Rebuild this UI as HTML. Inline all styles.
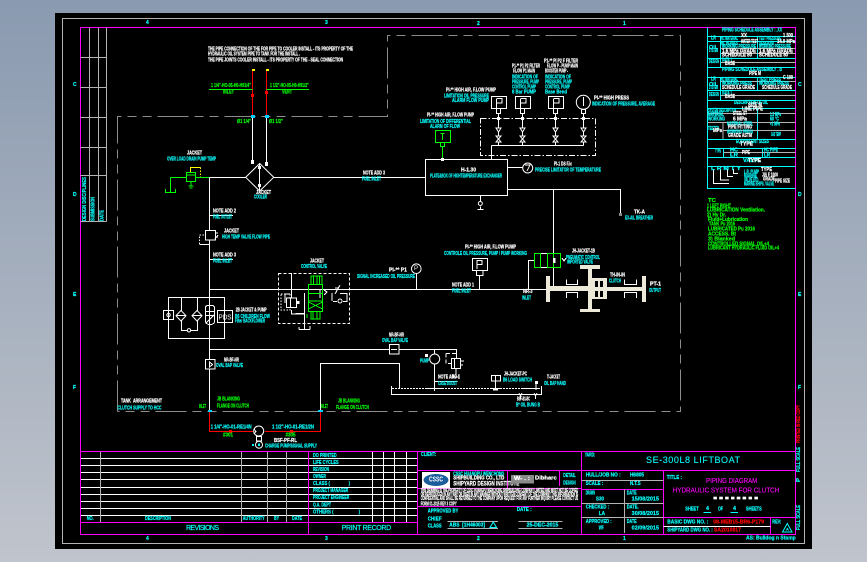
<!DOCTYPE html>
<html><head><meta charset="utf-8"><title>Piping Diagram</title>
<style>
html,body{margin:0;padding:0;width:867px;height:562px;overflow:hidden;background:#a5aebd}
svg{display:block}
text{font-family:"Liberation Sans",sans-serif;font-size:5px;font-weight:bold;dominant-baseline:central}
.c{fill:#00ffff;stroke:#00ffff;stroke-width:.18}.w{fill:#fff;stroke:#fff;stroke-width:.22}.g{fill:#00ff00;stroke:#00ff00;stroke-width:.18}.m{fill:#ff00ff;stroke:#ff00ff;stroke-width:.12}.r{fill:#ff0000;stroke:#ff0000;stroke-width:.18}
.big{font-weight:normal;font-size:9px}.mid{font-weight:normal;font-size:7px}
.ln{fill:none;stroke-width:1;shape-rendering:crispEdges}
.W{stroke:#fff}.G{stroke:#00ff00}.R{stroke:#ff0000}.M{stroke:#ff00ff}.C{stroke:#00ffff}.Y{stroke:#ffff00}.S{stroke:#b4b4b4}
.D{stroke:#8c8c8c;stroke-dasharray:31,6,9,6,9,6}
.F{fill:#ece9d8;stroke:none;shape-rendering:crispEdges}
</style></head><body>
<svg width="867" height="562" viewBox="0 0 867 562" xmlns="http://www.w3.org/2000/svg">
<defs><linearGradient id="bg" x1="0" y1="0" x2="0" y2="1"><stop offset="0" stop-color="#8a9ab0"/><stop offset="1" stop-color="#c0c4cc"/></linearGradient></defs>
<rect width="867" height="562" fill="url(#bg)"/>
<rect x="55" y="13" width="757" height="536" fill="#000"/>
<path class="ln S" d="M62.5 18.5H804.5V543.5H62.5Z"/>
<path class="ln M" stroke-width="1" d="M80.5 27.5H795.5V534.5H80.5Z"/>

<!-- tick letters -->
<g class="c">
<text x="146" y="23">4</text><text x="325" y="23">3</text><text x="477" y="24">2</text><text x="623" y="24">1</text>
<text x="146" y="539">4</text><text x="325" y="539">3</text><text x="477" y="539">2</text><text x="623" y="539">1</text>
<text x="73" y="85">C</text><text x="73" y="195">D</text><text x="73" y="295">E</text><text x="73" y="388">F</text>
<text x="798" y="85">C</text><text x="798" y="195">D</text><text x="798" y="295">E</text><text x="798" y="388">F</text>
</g>

<!-- left strip -->
<path class="ln S" d="M89.5 27.5V221.5M98.5 27.5V221.5M106.5 27.5V221.5M80.5 57.5H106.5M80.5 87.5H106.5M80.5 117.5H106.5M80.5 147.5H106.5M80.5 175.5H106.5M80.5 221.5H106.5"/>
<text class="c" transform="translate(85 221) rotate(-90)" textLength="44" lengthAdjust="spacingAndGlyphs">DESIGN DISCIPLINES</text>
<text class="c" transform="translate(93.5 221) rotate(-90)" textLength="24" lengthAdjust="spacingAndGlyphs">SUBMISSION</text>
<text class="c" transform="translate(102.5 221) rotate(-90)" textLength="11" lengthAdjust="spacingAndGlyphs">DATE</text>

<!-- boundary -->
<path class="ln D" d="M117.5 411.5V116.5H387.5V35.5H680.5V411.5H117.5"/>

<!-- top notes -->
<text class="w" x="208" y="49.5" textLength="145" lengthAdjust="spacingAndGlyphs">THE PIPE CONNECTION OF THE FOR PIPE TO COOLER INSTALL - ITS PROPERTY OF THE</text>
<text class="w" x="208" y="54.5" textLength="92" lengthAdjust="spacingAndGlyphs">HYDRAULIC OIL SYSTEM PIPE TO TANK FOR THE INSTALL .</text>
<text class="w" x="208" y="60.5" textLength="135" lengthAdjust="spacingAndGlyphs">THE PIPE JOINTS COOLER INSTALL - ITS PROPERTY OF THE - SEAL CONNECTION</text>

<!-- red pipes -->
<path class="ln R" d="M252.5 70V116M266.5 70V116"/>
<rect x="252" y="69" width="3" height="2" fill="#ffff00"/><rect x="266" y="69" width="3" height="2" fill="#ffff00"/>
<rect x="251" y="94" width="3" height="3" fill="#f00"/><rect x="265" y="91" width="3" height="3" fill="#f00"/>
<path class="ln G" d="M209 89.5H252.5M266.5 89.5H309"/>
<text class="g" x="211" y="86" textLength="40" lengthAdjust="spacingAndGlyphs">1 1/4"-HO-05-H0-H91/4"</text>
<text class="g" x="270" y="86" textLength="38.7" lengthAdjust="spacingAndGlyphs">1 1/2"-HO-05-H0-H91/2"</text>
<text class="g" x="223" y="92.5" textLength="11" lengthAdjust="spacingAndGlyphs">INLET</text>
<text class="g" x="282" y="92.5" textLength="10" lengthAdjust="spacingAndGlyphs">VENT</text>
<rect x="251" y="115" width="4" height="3" fill="#00d0ff"/><rect x="265" y="115" width="4" height="3" fill="#00d0ff"/>
<text class="g" x="237" y="122" textLength="14" lengthAdjust="spacingAndGlyphs">Ø1 1/4"</text>
<text class="g" x="269" y="122" textLength="14" lengthAdjust="spacingAndGlyphs">Ø1 1/2"</text>

<!-- cooler -->
<path class="ln W" d="M252.5 118V163M266.5 118V165M259.5 163.5V191M274 177.5H425.5M209.5 177.5H246"/>
<path d="M259.7 163.5L273.7 177.3L259.7 191L245.7 177.3Z" fill="none" stroke="#fff" stroke-width="1"/>
<rect x="251" y="160" width="3" height="4" fill="#fff"/><rect x="265" y="162" width="3" height="4" fill="#fff"/><rect x="258" y="166" width="3" height="3" fill="#fff"/><rect x="258" y="184" width="3" height="3" fill="#fff"/>
<text class="w" x="256" y="193" textLength="15" lengthAdjust="spacingAndGlyphs">JACKET</text>
<text class="c" x="254" y="197.5" textLength="13" lengthAdjust="spacingAndGlyphs">COOLER</text>
<text class="w" x="363" y="173.7" textLength="22" lengthAdjust="spacingAndGlyphs">NOTE ADD 3</text>
<text class="c" x="362" y="179.3" textLength="19" lengthAdjust="spacingAndGlyphs">FUEL INLET</text>

<!-- green oil valve -->
<path class="ln G" d="M170.5 177.5H186M196 177.5H209.5M170.5 177.5V192.5M165.5 189V192.5H175.5V189M186.5 172.5H195.5V181.5H186.5ZM186.5 175H195.5M191 182V186M188.5 186H193.5M189.5 188H192.5"/>
<path class="ln Y" d="M190.5 172V167.5H200.5"/>
<path class="ln Y" stroke-dasharray="1.5,1.5" d="M200.5 167.5V177"/>
<text class="w" x="187" y="153.5" textLength="15" lengthAdjust="spacingAndGlyphs">JACKET</text>
<text class="c" x="167" y="159.5" textLength="49" lengthAdjust="spacingAndGlyphs">OVER LOAD DRAIN PUMP TEMP</text>

<!-- left vertical main -->
<path class="ln W" d="M209.5 177.5V411.5M209.5 215.5H233M209.5 259.5H233M209.5 289.5H546.5M209.5 349.5H456.5V358"/>
<text class="w" x="213" y="211.7" textLength="23" lengthAdjust="spacingAndGlyphs">NOTE ADD 2</text>
<text class="c" x="213" y="217.5" textLength="19" lengthAdjust="spacingAndGlyphs">FUEL OUTLET</text>
<text class="w" x="213" y="255.5" textLength="23" lengthAdjust="spacingAndGlyphs">NOTE ADD 3</text>
<text class="c" x="213" y="261.5" textLength="19" lengthAdjust="spacingAndGlyphs">FUEL INLET</text>

<!-- top left small valve -->
<rect x="205.5" y="230.5" width="10" height="9.5" fill="#000" stroke="#fff" stroke-width="1"/>
<path class="ln W" d="M199.5 244.5H209.5M216 233H218M216 237H218M215 239L218 235"/>
<path class="ln W" stroke-dasharray="1.5,1.5" d="M199.5 244V235H205"/>
<text class="w" x="224" y="231.5" textLength="15" lengthAdjust="spacingAndGlyphs">JACKET</text>
<text class="c" x="222" y="237.5" textLength="48" lengthAdjust="spacingAndGlyphs">HIGH TEMP VALVE FLOW PIPE</text>

<!-- filter block -->
<path class="ln W" d="M168.5 297.5H224.5V338.5H168.5ZM163.5 310.5H173.5V319.5H163.5ZM181.5 297.5V310.5M197.5 297.5V310.5M181.5 320.5V330.5H197.5V320.5M205.5 308Q205.5 305.5 208 305.5H212Q214.5 305.5 214.5 308V321Q214.5 324.5 210 324.5Q205.5 324.5 205.5 321ZM205.5 311.5H214.5M205.5 315.5H214.5M206 323L214 315M217.5 310.5H232.5V322.5H217.5Z"/>
<path d="M181 310.5L186 315.7L181 321L176 315.7ZM197 310.5L202 315.7L197 321L192 315.7Z" fill="#000" stroke="#fff"/>
<path class="ln W" d="M176 315.5H186M192 315.5H202"/>
<circle cx="168.5" cy="315" r="1.7" fill="none" stroke="#fff"/><circle cx="189" cy="330.3" r="1.7" fill="#000" stroke="#fff"/>
<text x="218.5" y="317" fill="#fff" style="font-size:7.5px;font-weight:normal" textLength="13" lengthAdjust="spacingAndGlyphs">PDS</text>
<text class="w" x="235.7" y="310.5" textLength="31" lengthAdjust="spacingAndGlyphs">2B JACKET &amp; PUMP</text>
<text class="c" x="235" y="316.8" textLength="35" lengthAdjust="spacingAndGlyphs">B6 CHILDREN FLOW</text>
<text class="c" x="235" y="321.4" textLength="30" lengthAdjust="spacingAndGlyphs">Filter BACKFLOWER</text>

<!-- check valve left -->
<rect x="205.5" y="359.5" width="9.5" height="9.5" fill="#000" stroke="#fff" stroke-width="1"/>
<path class="ln W" d="M209.5 362V367L212.5 364.5Z"/>
<text class="w" x="224" y="360.5" textLength="15" lengthAdjust="spacingAndGlyphs">NR-BF-NR</text>
<text class="c" x="216" y="366" textLength="27" lengthAdjust="spacingAndGlyphs">OVAL BAP VALVE</text>

<!-- control dashed box -->
<rect x="278.5" y="273.5" width="71" height="50" fill="none" stroke="#fff" stroke-dasharray="3,2" shape-rendering="crispEdges"/>
<text class="w" x="310" y="261.7" textLength="14" lengthAdjust="spacingAndGlyphs">JACKET</text>
<text class="c" x="301" y="266.8" textLength="26" lengthAdjust="spacingAndGlyphs">CONTROL VALVE</text>
<path class="ln W" d="M291.5 273V298M291.5 310V314H304M304.5 293V329M299 329.5H310M310 329.5V326M299 329.5V327M295.5 313.5H304.5M285 303V294H290M320 289V298M335 294L340 285M335 288H339M340 293.5H347V301.5H343M337 301.5H333M332 293V301"/>
<path class="ln W" stroke-dasharray="1.5,1.5" d="M281 294H290V310H281V294"/>
<rect x="286.5" y="298" width="10" height="9.5" fill="#000" stroke="#fff"/><path class="ln W" d="M290.5 298V307.5"/>
<rect x="297" y="301" width="2.5" height="3" fill="#fff"/>
<circle cx="340" cy="301" r="2" fill="#000" stroke="#fff"/>
<path class="ln G" d="M308.5 284.5H322.5V311.5H308.5ZM308.5 293.5H322.5M308.5 301H322.5M308.5 302L322.5 309M322.5 302L308.5 309M311 284V276H322V284M313.5 276V284M317 276V284M319.5 276V284M311 312V319H320V312M313 312V319M317 312V319M307 314V318"/>
<path class="ln W" d="M324 290L327 292L324 295"/>
<text class="w" x="389" y="270.5" textLength="18" lengthAdjust="spacingAndGlyphs">PI-** P1</text>
<text class="c" x="357" y="277" textLength="58" lengthAdjust="spacingAndGlyphs">SIGNAL INCREASED OIL PRESSURE</text>
<circle cx="416.3" cy="268.7" r="4.8" fill="#000" stroke="#fff"/>
<text x="414" y="269" fill="#fff" style="font-size:6px;font-weight:normal">P</text>
<path class="ln W" d="M416.5 273.5V289.5"/>

<!-- pressure gauge mid -->
<rect x="472.5" y="258.5" width="15" height="12" fill="none" stroke="#fff"/>
<path class="ln W" d="M477 260V269M477 260.5H482V264.5H477M476.5 270.5H483V275.5H476.5ZM479.5 275.5V289.5"/>
<text class="w" x="465" y="247.5" textLength="51" lengthAdjust="spacingAndGlyphs">PI-** HIGH AIR, F.LOW PUMP</text>
<text class="c" x="444" y="254" textLength="83" lengthAdjust="spacingAndGlyphs">CONTROLE OIL PRESSURE, PUMP / PUMP WORKING</text>
<text class="w" x="452" y="285.5" textLength="22" lengthAdjust="spacingAndGlyphs">NOTE ADD 1</text>
<text class="c" x="452" y="291.5" textLength="19" lengthAdjust="spacingAndGlyphs">FUEL INLET</text>
<text class="w" x="523" y="292" textLength="9.5" lengthAdjust="spacingAndGlyphs">NR-3</text>
<text class="c" x="522" y="298.5" textLength="9" lengthAdjust="spacingAndGlyphs">INLET</text>

<!-- main box -->
<rect x="425.5" y="159.5" width="82" height="36" fill="none" stroke="#fff"/>
<text class="w" x="461" y="170.3" textLength="15" lengthAdjust="spacingAndGlyphs">H-1.30</text>
<text class="c" x="430" y="176.3" textLength="72" lengthAdjust="spacingAndGlyphs">PLATE&amp;BOX OF HIGHTEMPERATURE EXCHANGER</text>
<path class="ln W" d="M507.5 167.5H522.5M507.5 189.5H620.5V215M553.5 189.5V287M480.5 195.5V201M477.5 209.5H483.5M480.5 206.5V209.5"/>
<circle cx="480.3" cy="203.5" r="2" fill="none" stroke="#fff"/>
<circle cx="527.7" cy="168" r="5" fill="none" stroke="#fff"/>
<path class="ln W" d="M525 165H530L527 171"/>
<rect x="619" y="213" width="3" height="3" fill="#888"/>
<text class="w" x="554" y="164.7" textLength="18" lengthAdjust="spacingAndGlyphs">PI-1 DS F.ic</text>
<text class="c" x="535" y="170.5" textLength="66" lengthAdjust="spacingAndGlyphs">PRECISE LIMITATOR OF TEMPERATURE</text>
<text class="w" x="634" y="212.7" textLength="11" lengthAdjust="spacingAndGlyphs">TK-A</text>
<text class="c" x="625" y="218.3" textLength="28" lengthAdjust="spacingAndGlyphs">EX-AIL BREATHER</text>

<!-- instruments -->
<rect x="480.5" y="118.5" width="115" height="37" fill="none" stroke="#fff" stroke-dasharray="6,2,1.5,2" shape-rendering="crispEdges"/>
<path class="ln W" d="M491.5 96.5H506.5V108.5H491.5ZM496.5 99V108M496.5 98.5H502V103H496.5M496.5 108.5H500.5V113.5H496.5ZM515.5 96.5H530.5V108.5H515.5ZM520.5 99V108M520.5 98.5H526V103H520.5M520.5 108.5H524.5V113.5H520.5ZM548.5 96.5H563.5V108.5H548.5ZM553.5 99V108M553.5 98.5H559V103H553.5M553.5 108.5H557.5V113.5H553.5ZM581.5 109.5H585.5V113.5H581.5ZM498.5 113.5V145.5M522.5 113.5V145.5M555.5 113.5V145.5M583.5 113.5V145.5M491.5 145.5H583.5M491.5 145.5V159.5M583.5 97V106"/>
<circle cx="583.3" cy="102.3" r="7" fill="none" stroke="#fff"/>
<g fill="#000" stroke="#fff">
<path d="M496 128H501L498.5 132ZM496 136H501L498.5 139L501 142H496L498.5 139Z"/>
<path d="M520 128H525L522.5 132ZM520 136H525L522.5 139L525 142H520L522.5 139Z"/>
<path d="M553 128H558L555.5 132ZM553 136H558L555.5 139L558 142H553L555.5 139Z"/>
<path d="M581 128H586L583.5 132ZM581 136H586L583.5 139L586 142H581L583.5 139Z"/>
</g>
<rect x="497" y="117" width="3" height="3" fill="#fff"/><rect x="521" y="117" width="3" height="3" fill="#fff"/><rect x="554" y="117" width="3" height="3" fill="#fff"/><rect x="582" y="117" width="3" height="3" fill="#fff"/>
<path class="ln G" d="M435.5 130.5H450.5V142.5H435.5ZM440.5 142.5H444.5V146.5H440.5ZM442.5 134V140M440.5 133.5H444.5M442.5 146.5V159"/>
<rect x="441" y="158" width="3" height="3" fill="#fff"/>

<text class="w" x="427" y="115.3" textLength="47" lengthAdjust="spacingAndGlyphs">PI-** HIGH AIR, F.LOW PUMP</text>
<text class="c" x="420" y="122" textLength="51" lengthAdjust="spacingAndGlyphs">LIMITATION OF DIFFERENTIAL</text>
<text class="c" x="430" y="126.8" textLength="30" lengthAdjust="spacingAndGlyphs">ALARM OF FLOW</text>
<text class="w" x="446" y="90.7" textLength="50" lengthAdjust="spacingAndGlyphs">PI-** HIGH AIR, F.LOW PUMP</text>
<text class="c" x="444" y="96.5" textLength="45" lengthAdjust="spacingAndGlyphs">LIMITATION OIL PRESSURE</text>
<text class="c" x="452" y="101.2" textLength="37" lengthAdjust="spacingAndGlyphs">ALARM FLOW PUMP</text>
<text class="w" x="512" y="66.7" textLength="28" lengthAdjust="spacingAndGlyphs">P1-** P1 P2 FILTER</text>
<text class="w" x="513" y="71.7" textLength="22" lengthAdjust="spacingAndGlyphs">F.LOW P1 MAIN</text>
<text class="c" x="512" y="77.7" textLength="26" lengthAdjust="spacingAndGlyphs">INDICATION OF</text>
<text class="c" x="512" y="82.7" textLength="27" lengthAdjust="spacingAndGlyphs">PRESSURE, PUMP</text>
<text class="c" x="512" y="87.7" textLength="24" lengthAdjust="spacingAndGlyphs">CONTROL PUMP</text>
<text class="c" x="512" y="92.7" textLength="24" lengthAdjust="spacingAndGlyphs">8 Bar PUMP</text>
<text class="w" x="544" y="61.7" textLength="34" lengthAdjust="spacingAndGlyphs">P1-** PI P2 F FILTER</text>
<text class="w" x="547" y="66.7" textLength="31" lengthAdjust="spacingAndGlyphs">F.LOW P - PUMP MAIN</text>
<text class="w" x="545" y="71.7" textLength="23" lengthAdjust="spacingAndGlyphs">BOOSTER PUMP -</text>
<text class="c" x="545" y="77.7" textLength="26" lengthAdjust="spacingAndGlyphs">INDICATION OF</text>
<text class="c" x="545" y="82.7" textLength="27" lengthAdjust="spacingAndGlyphs">PRESSURE, PUMP</text>
<text class="c" x="545" y="87.7" textLength="25" lengthAdjust="spacingAndGlyphs">CONTROL PUMP</text>
<text class="c" x="545" y="92.7" textLength="22" lengthAdjust="spacingAndGlyphs">Base Bend</text>
<text class="w" x="594" y="98.3" textLength="35" lengthAdjust="spacingAndGlyphs">PI-** HIGH PRESS</text>
<text class="c" x="592" y="104.7" textLength="63" lengthAdjust="spacingAndGlyphs">INDICATION OF PRESSURE, AVERAGE</text>

<!-- clutch assembly -->
<path class="ln W" d="M528.5 289V260.5H534"/>
<rect class="F" x="546" y="276" width="4" height="26"/>
<rect class="F" x="550" y="286" width="39" height="5"/>
<rect class="F" x="588" y="266" width="4" height="46"/>
<rect class="F" x="580" y="265" width="20" height="4"/>
<rect class="F" x="580" y="309" width="20" height="3"/>
<rect class="F" x="592" y="278" width="15" height="21"/>
<rect x="595" y="281" width="3" height="6" fill="#000"/><rect x="600" y="281" width="3" height="6" fill="#000"/><rect x="595" y="291" width="3" height="6" fill="#000"/><rect x="600" y="291" width="3" height="6" fill="#000"/>
<rect class="F" x="592" y="287" width="50" height="4"/>
<rect class="F" x="642" y="276" width="4" height="26"/>
<path class="ln W" d="M566.5 279.5V284.5H577.5V279.5M566.5 298V292.5H577.5V298M624.5 279.5V284.5H636.5V279.5M624.5 298V292.5H636.5V298"/>
<path class="ln G" d="M534.5 253.5H560.5V267.5H534.5ZM540.5 253.5V267.5M547.5 253.5V267.5M553.5 253.5V267.5"/>
<rect x="553" y="258" width="2.5" height="5" fill="#fff"/>
<path class="ln W" d="M541 253.5H547M541 267.5H547M562 258L564 261L566 258"/>
<text class="w" x="572" y="251.5" textLength="23" lengthAdjust="spacingAndGlyphs">JH-JACKET-1B</text>
<text class="c" x="566" y="257.8" textLength="34" lengthAdjust="spacingAndGlyphs">PNEUMATIC CONTROL</text>
<text class="c" x="567" y="262.5" textLength="26" lengthAdjust="spacingAndGlyphs">IMPORTED VALVE</text>
<text class="w" x="610" y="275.5" textLength="15" lengthAdjust="spacingAndGlyphs">TH-IN-IN</text>
<text class="c" x="609" y="281.5" textLength="12" lengthAdjust="spacingAndGlyphs">CLUTCH</text>
<text class="w" x="650" y="284.5" textLength="11" lengthAdjust="spacingAndGlyphs">PT-1</text>
<text class="c" x="649" y="291" textLength="12" lengthAdjust="spacingAndGlyphs">OUTPUT</text>

<!-- lower right pump and tank -->
<rect x="389.5" y="344.5" width="9.5" height="9.5" fill="#000" stroke="#fff"/>
<path class="ln W" d="M391 349.5H397"/>
<text class="w" x="389" y="335.5" textLength="15" lengthAdjust="spacingAndGlyphs">NR-BF-NR</text>
<text class="c" x="382" y="341" textLength="26" lengthAdjust="spacingAndGlyphs">OVAL BAP VALVE</text>
<path class="ln W" d="M320.5 411.5V363.5H399.5V389M434.5 349.5V354M434.5 364V391M434.5 381.5H457.5M391.5 386V394.5H541.5V386"/>
<path class="ln W" stroke-dasharray="2,1" d="M392 388.5H425M442 388.5H490M500 388.5H522"/>
<path class="ln W" d="M425 388.5H442M490 388.5H500M522 388.5H540"/>
<circle cx="434.7" cy="359" r="5" fill="#000" stroke="#fff"/>
<rect x="425" y="354" width="3" height="3" fill="#fff"/>
<rect x="451.5" y="358.5" width="9" height="10" fill="#000" stroke="#fff"/>
<path class="ln W" d="M454.5 358.5V368.5M461 361H464M461 365H463M456 369V375M453 374V377H459V374"/>
<path class="ln W" stroke-dasharray="4,2" d="M446 353.5H456M446 353.5V363.5H451"/>
<text class="c" x="420" y="361.5" textLength="9" lengthAdjust="spacingAndGlyphs">PUMP</text>
<text class="w" x="438" y="377.5" textLength="22" lengthAdjust="spacingAndGlyphs">NOTE ADD 1</text>
<text class="c" x="438" y="384" textLength="19" lengthAdjust="spacingAndGlyphs">CASE BOOST</text>
<rect x="491.5" y="375.5" width="9" height="5.5" fill="#000" stroke="#fff"/>
<path class="ln W" d="M495.5 376V381M495.5 381V388"/>
<rect x="493" y="388" width="5" height="2.5" fill="#fff"/>
<text class="w" x="504" y="374.5" textLength="23" lengthAdjust="spacingAndGlyphs">JH-JACKET-PC</text>
<text class="c" x="503" y="380.5" textLength="29" lengthAdjust="spacingAndGlyphs">B6 LOAD SWITCH</text>
<path class="ln W" d="M536 382V390M520.5 394V399M535.5 394V399M519 393L520.5 396L522 393M534 393L535.5 396L537 393"/>
<rect x="535" y="381" width="3" height="3" fill="#fff"/>
<text class="w" x="547" y="377.5" textLength="13" lengthAdjust="spacingAndGlyphs">TI-JACKET</text>
<text class="c" x="544" y="384" textLength="22" lengthAdjust="spacingAndGlyphs">OIL BAP HAND</text>
<text class="w" x="517" y="399.5" textLength="13" lengthAdjust="spacingAndGlyphs">BSF-B1-BC</text>
<text class="c" x="516" y="405.5" textLength="24" lengthAdjust="spacingAndGlyphs">B* OIL BUNG B</text>

<!-- bottom left -->
<text class="w" x="121" y="401.5" textLength="41" lengthAdjust="spacingAndGlyphs">TANK&#160;&#160;ARRANGEMENT</text>
<text class="c" x="117.5" y="408.5" textLength="44" lengthAdjust="spacingAndGlyphs">CLUTCH SUPPLY TO HCC</text>
<text class="g" x="199" y="407" textLength="7" lengthAdjust="spacingAndGlyphs">INLET</text>
<text class="g" x="217" y="399.5" textLength="23" lengthAdjust="spacingAndGlyphs">JB BLANKING</text>
<text class="g" x="217" y="406.5" textLength="32" lengthAdjust="spacingAndGlyphs">FLANGE ON CLUTCH</text>
<text class="g" x="321" y="407" textLength="7" lengthAdjust="spacingAndGlyphs">INLET</text>
<text class="g" x="338" y="401.5" textLength="22" lengthAdjust="spacingAndGlyphs">JB BLANKING</text>
<text class="g" x="336" y="408" textLength="33" lengthAdjust="spacingAndGlyphs">FLANGE ON CLUTCH</text>
<rect x="208" y="410" width="4" height="2" fill="#00d0ff"/><rect x="318" y="410" width="5" height="2" fill="#00d0ff"/>
<path class="ln R" d="M209.5 412V431.5H253M265 431.5H320.5V412"/>
<rect x="229" y="430" width="3" height="3" fill="#f00"/><rect x="290" y="430" width="3" height="3" fill="#f00"/>
<text class="c" x="210.7" y="427.5" textLength="41" lengthAdjust="spacingAndGlyphs">1 1/4"-HO-01-RE1/4N</text>
<text class="c" x="272" y="427.5" textLength="42" lengthAdjust="spacingAndGlyphs">1 1/2"-HO-01-RE1/2N</text>
<text class="g" x="223" y="435.5" textLength="10" lengthAdjust="spacingAndGlyphs">#301</text>
<text class="g" x="285.5" y="435.5" textLength="10" lengthAdjust="spacingAndGlyphs">#305</text>
<circle cx="258.7" cy="431" r="5" fill="#000" stroke="#fff"/>
<path class="ln W" d="M256.5 436.5H261.5V441H256.5ZM254 429L256 431.5L254 434"/>
<circle cx="259" cy="444.7" r="3.5" fill="none" stroke="#fff"/>
<rect x="258" y="443.5" width="2" height="2.5" fill="#0ff"/><rect x="252" y="444" width="2" height="2" fill="#0ff"/>
<text class="w" x="274" y="440.8" textLength="23" lengthAdjust="spacingAndGlyphs">BSF-PF-RL</text>
<text class="c" x="265" y="446.7" textLength="52" lengthAdjust="spacingAndGlyphs">CHARGE PUMP/SIGNAL SUPPLY</text>

<!-- green notes -->
<g class="g">
<text x="708" y="201" textLength="8" lengthAdjust="spacingAndGlyphs">TC</text>
<text x="707" y="206.3" textLength="24" lengthAdjust="spacingAndGlyphs">1 LEFT RIGHT</text>
<text x="707" y="210.7" textLength="58" lengthAdjust="spacingAndGlyphs">LUBRICATION Ventilation.</text>
<text x="707" y="215.7" textLength="19" lengthAdjust="spacingAndGlyphs">2) Hy Dr.</text>
<text x="708" y="220" textLength="40" lengthAdjust="spacingAndGlyphs">Fluid+Lubrication</text>
<text x="709" y="224.7" textLength="26" lengthAdjust="spacingAndGlyphs">TANK Pu 2016</text>
<text x="708" y="229.7" textLength="47" lengthAdjust="spacingAndGlyphs">LUBRICATED Pu 2016</text>
<text x="708" y="234.3" textLength="28" lengthAdjust="spacingAndGlyphs">ACCESS. Bt</text>
<text x="708" y="239.7" textLength="27" lengthAdjust="spacingAndGlyphs">3) Blanked</text>
<text x="708" y="244.3" textLength="61" lengthAdjust="spacingAndGlyphs">CONTROLLED SIGNAL OIL+4</text>
<text x="708" y="248.7" textLength="71" lengthAdjust="spacingAndGlyphs">LUBRICANT HYDRAULIC FLUID OIL+4</text>
</g>

<!-- right panel -->
<path class="ln C" d="M707.5 27.5V188.5H795.5M707.5 36.5H795.5M707.5 41.5H795.5M707.5 58.5H795.5M707.5 67.5H795.5M707.5 77.5H795.5M707.5 90.5H795.5M707.5 100.5H795.5M707.5 108.5H795.5M707.5 139.5H795.5M707.5 148.5H795.5M707.5 157.5H795.5M707.5 166.5H795.5M720.5 36.5V67.5M720.5 77.5V100.5M757.5 36.5V58.5M757.5 77.5V90.5M757.5 108.5V139.5M723.5 148.5V157.5M762.5 148.5V157.5"/>
<path class="ln S" d="M720.5 48.5H795.5M720.5 53.5H795.5M720.5 62.5H795.5M720.5 81.5H795.5M720.5 95.5H795.5M707.5 113.5H795.5M707.5 122.5H795.5M723 122V139M723.5 130.5H795.5M723.5 152.5H795.5"/>
<g>
<text class="c" x="722" y="30.5" textLength="60" lengthAdjust="spacingAndGlyphs">PIPING SCHEDULE ASSEMBLY : .XX</text>
<text class="c" x="711" y="38.7" textLength="5" lengthAdjust="spacingAndGlyphs">LR</text>
<text class="c" x="721" y="39" textLength="17" lengthAdjust="spacingAndGlyphs">HC MATERIAL</text>
<text class="w" x="741" y="36" textLength="6" lengthAdjust="spacingAndGlyphs">XX</text>
<text class="c" x="759" y="39" textLength="22" lengthAdjust="spacingAndGlyphs">TEST PRESSURE</text>
<text class="w" x="783" y="36" textLength="10" lengthAdjust="spacingAndGlyphs">1 500</text>
<text class="c" x="721" y="44" textLength="17" lengthAdjust="spacingAndGlyphs">HC HI-PRES</text><text class="w" x="741" y="42" textLength="17" lengthAdjust="spacingAndGlyphs">WATER TEST</text>
<text class="c" x="759" y="44" textLength="15" lengthAdjust="spacingAndGlyphs">DESIGN PR</text><text class="w" x="777" y="42" textLength="18" lengthAdjust="spacingAndGlyphs">14.0 MPa</text>
<text class="c" x="709" y="48" textLength="9" lengthAdjust="spacingAndGlyphs">OIL</text><text class="c" x="709" y="51" textLength="9" lengthAdjust="spacingAndGlyphs">SYSTEM</text>
<text class="c" x="722" y="47" textLength="34" lengthAdjust="spacingAndGlyphs">WORKING PRESSURE</text><text class="c" x="759" y="47" textLength="32" lengthAdjust="spacingAndGlyphs">WORKING PRESSURE</text>
<text class="w" x="722" y="51.5" textLength="34" lengthAdjust="spacingAndGlyphs">1.6 MPa GRADE</text><text class="w" x="759" y="51.5" textLength="34" lengthAdjust="spacingAndGlyphs">1.6 MPa GRADE</text>
<text class="w" x="722" y="55.5" textLength="30" lengthAdjust="spacingAndGlyphs">SCHEDULE 80</text><text class="w" x="759" y="55.5" textLength="29" lengthAdjust="spacingAndGlyphs">SCHEDULE 80</text>
<text class="c" x="709" y="62" textLength="10" lengthAdjust="spacingAndGlyphs">DESIGN</text>
<text class="c" x="722" y="60.5" textLength="10" lengthAdjust="spacingAndGlyphs">DATA 1</text><text class="w" x="725" y="64" textLength="10" lengthAdjust="spacingAndGlyphs">BASE</text>
<text class="c" x="722" y="70" textLength="60" lengthAdjust="spacingAndGlyphs">PIPING SCHEDULE ASSEMBLY . B</text>
<text class="w" x="749" y="74" textLength="12" lengthAdjust="spacingAndGlyphs">PIPE M</text>
<text class="c" x="711" y="79.5" textLength="5" lengthAdjust="spacingAndGlyphs">LR</text>
<text class="c" x="721" y="80" textLength="17" lengthAdjust="spacingAndGlyphs">HC MATERIAL</text><text class="c" x="759" y="80" textLength="22" lengthAdjust="spacingAndGlyphs">TEST PRESS</text><text class="w" x="783" y="78" textLength="10" lengthAdjust="spacingAndGlyphs">C 100</text>
<text class="c" x="709" y="85" textLength="9" lengthAdjust="spacingAndGlyphs">OIL</text><text class="c" x="709" y="88" textLength="9" lengthAdjust="spacingAndGlyphs">SYSTEM</text>
<text class="c" x="722" y="84" textLength="30" lengthAdjust="spacingAndGlyphs">WORKING PRESS</text><text class="c" x="759" y="84" textLength="30" lengthAdjust="spacingAndGlyphs">WORKING PRESS</text>
<text class="w" x="722" y="88" textLength="33" lengthAdjust="spacingAndGlyphs">SCHEDULE GRADE</text><text class="w" x="762" y="88" textLength="30" lengthAdjust="spacingAndGlyphs">SCHEDULE GRADE</text>
<text class="c" x="709" y="95" textLength="10" lengthAdjust="spacingAndGlyphs">DESIGN</text>
<text class="c" x="722" y="93.5" textLength="10" lengthAdjust="spacingAndGlyphs">DATA 1</text><text class="w" x="725" y="97" textLength="10" lengthAdjust="spacingAndGlyphs">BASE</text>
<text class="c" x="734" y="103" textLength="34" lengthAdjust="spacingAndGlyphs">DESCRIPTION OF OIL</text><text class="w" x="748" y="105.5" textLength="14" lengthAdjust="spacingAndGlyphs">SIZE M</text>
<text class="c" x="708" y="111" textLength="28" lengthAdjust="spacingAndGlyphs">SYSTEM DESCRIPTION</text><text class="w" x="742" y="109.5" textLength="21" lengthAdjust="spacingAndGlyphs">LINE PIPE</text>
<text class="c" x="708" y="115" textLength="16" lengthAdjust="spacingAndGlyphs">MATERIAL</text><text class="w" x="733" y="114" textLength="14" lengthAdjust="spacingAndGlyphs">STEEL ST</text><text class="c" x="770" y="115" textLength="11" lengthAdjust="spacingAndGlyphs">1.5 MPa</text>
<text class="c" x="708" y="119.5" textLength="17" lengthAdjust="spacingAndGlyphs">WORKING</text><text class="w" x="733" y="119.5" textLength="14" lengthAdjust="spacingAndGlyphs">6 MPa</text><text class="c" x="770" y="119.5" textLength="9" lengthAdjust="spacingAndGlyphs">60 °C</text>
<text class="c" x="708" y="129" textLength="11" lengthAdjust="spacingAndGlyphs">TESTED</text><text class="w" x="713" y="131" textLength="9" lengthAdjust="spacingAndGlyphs">MPa</text>
<text class="c" x="727" y="124.5" textLength="26" lengthAdjust="spacingAndGlyphs">MATERIAL STEEL</text><text class="w" x="728" y="127.5" textLength="24" lengthAdjust="spacingAndGlyphs">PIPE FITTING</text>
<text class="c" x="727" y="132.5" textLength="26" lengthAdjust="spacingAndGlyphs">WORKING PRESS</text><text class="w" x="728" y="136" textLength="24" lengthAdjust="spacingAndGlyphs">GRADE ASTM</text>
<text class="c" x="770" y="124.5" textLength="10" lengthAdjust="spacingAndGlyphs">+1 MPa</text><text class="c" x="771" y="135" textLength="10" lengthAdjust="spacingAndGlyphs">GAS TEMP</text>
<text class="c" x="736" y="142" textLength="33" lengthAdjust="spacingAndGlyphs">EQUIVALENT SIZES</text><text class="w" x="740" y="144.5" textLength="13" lengthAdjust="spacingAndGlyphs">TYPE</text>
<text class="c" x="715" y="151.5" textLength="6" lengthAdjust="spacingAndGlyphs">TYPE</text><text class="c" x="730" y="150.5" textLength="8" lengthAdjust="spacingAndGlyphs">HC</text><text class="w" x="742" y="153" textLength="8" lengthAdjust="spacingAndGlyphs">PIPE</text><text class="c" x="764" y="150.5" textLength="14" lengthAdjust="spacingAndGlyphs">HC PIPE</text>
<text class="c" x="730" y="155.5" textLength="8" lengthAdjust="spacingAndGlyphs">LR</text><text class="c" x="764" y="155.5" textLength="6" lengthAdjust="spacingAndGlyphs">LR</text>
<text class="c" x="743" y="161" textLength="18" lengthAdjust="spacingAndGlyphs">VALVE</text><text class="w" x="748" y="161" textLength="13" lengthAdjust="spacingAndGlyphs">TYPE</text>
</g>
<path class="ln W" d="M713.5 169V183.5H729M720.5 169V180H729M727.5 169V176.5H733M733.5 169V173.5H738"/>
<text class="c" x="711" y="169" textLength="30" lengthAdjust="spacingAndGlyphs">L R M T Y</text>
<text class="c" x="744" y="172.5" textLength="15" lengthAdjust="spacingAndGlyphs">L.R. PUMP</text>
<text class="c" x="744" y="176.5" textLength="13" lengthAdjust="spacingAndGlyphs">MARINE</text>
<text class="c" x="744" y="180.5" textLength="15" lengthAdjust="spacingAndGlyphs">VALVE STD.</text>
<text class="c" x="744" y="184.5" textLength="30" lengthAdjust="spacingAndGlyphs">MARINE SHIPS. VALVE</text>
<text class="w" x="761" y="170" textLength="11" lengthAdjust="spacingAndGlyphs">TYPE</text>
<text class="w" x="762" y="175.5" textLength="16" lengthAdjust="spacingAndGlyphs">JIS F 1000</text>
<text class="w" x="763" y="179.5" textLength="12" lengthAdjust="spacingAndGlyphs">GRADE</text>
<text class="w" x="775" y="181.5" textLength="15" lengthAdjust="spacingAndGlyphs">PIPE SIZE</text>

<!-- right vertical margin text -->
<text class="r" transform="translate(799 443) rotate(-90)" textLength="38" lengthAdjust="spacingAndGlyphs">PRINTED IN RED COPY</text>
<text class="c" transform="translate(799 472) rotate(-90)" textLength="25" lengthAdjust="spacingAndGlyphs">FULL SCALE</text>
<text class="c" transform="translate(799 482) rotate(-90)" textLength="4" lengthAdjust="spacingAndGlyphs">P</text>
<text class="c" transform="translate(799 530) rotate(-90)" textLength="25" lengthAdjust="spacingAndGlyphs">FULL SCALE</text>

<!-- title block structure -->
<path class="ln W" d="M81 458.5H417M81 465.5H417M81 472.5H417M81 479.5H417M81 487.5H417M81 494.5H417M81 501.5H417M81 508.5H417M81 515.5H417M372.5 451.5V522.5M383.5 451.5V522.5M394.5 451.5V522.5M406.5 451.5V522.5"/>
<path class="ln S" d="M100.5 451.5V522.5M241.5 451.5V522.5M267.5 451.5V522.5M286.5 451.5V522.5"/>
<path class="ln M" d="M81 451.5H796M81 522.5H417M308.5 451.5V534M417.5 451.5V534M417.5 470.5H796M417.5 488.5H581.5M417.5 506.5H581.5M581.5 451.5V534M663.5 470.5V534M663.5 517.5H796M770.5 517.5V534M507.5 471V488M559.5 471V486M581.5 489.5H663.5"/>
<path class="ln W" d="M663.5 526.5H770.5"/>
<path class="ln S" d="M581.5 480.5H663.5M581.5 503.5H663.5M581.5 517.5H663.5M624.5 489.5V533M447.5 521.5H498M447.5 528.5H498M518.5 521.5H562.5M518.5 528.5H562.5"/>

<!-- revisions text -->
<text class="c" x="86.7" y="519" textLength="7" lengthAdjust="spacingAndGlyphs">NO.</text>
<text class="c" x="145" y="519" textLength="26" lengthAdjust="spacingAndGlyphs">DESCRIPTION</text>
<text class="c" x="242.7" y="519" textLength="22" lengthAdjust="spacingAndGlyphs">AUTHORITY</text>
<text class="c" x="274" y="519" textLength="5" lengthAdjust="spacingAndGlyphs">BY</text>
<text class="c" x="292" y="519" textLength="10" lengthAdjust="spacingAndGlyphs">DATE</text>
<text class="c mid" x="186" y="528.7" textLength="33">REVISIONS</text>
<text class="c mid" x="341.7" y="528.7" textLength="49.5">PRINT RECORD</text>
<text class="c" x="313" y="455.8" textLength="23.7" lengthAdjust="spacingAndGlyphs">DO PRINTED</text>
<text class="c" x="313" y="463" textLength="25.7" lengthAdjust="spacingAndGlyphs">LIFE CYCLES</text>
<text class="c" x="313" y="470" textLength="16" lengthAdjust="spacingAndGlyphs">REVISION</text>
<text class="c" x="313" y="477" textLength="13" lengthAdjust="spacingAndGlyphs">OWNER</text>
<text class="c" x="313" y="484" textLength="37" lengthAdjust="spacingAndGlyphs">CLASS (&#160;&#160;&#160;&#160;&#160;&#160;&#160;&#160;&#160;&#160;&#160;&#160;&#160;&#160;&#160;&#160;)</text>
<text class="c" x="313" y="491" textLength="35.3" lengthAdjust="spacingAndGlyphs">PROJECT MANAGER</text>
<text class="c" x="313" y="498" textLength="36.3" lengthAdjust="spacingAndGlyphs">PROJECT ENGINEER</text>
<text class="c" x="313" y="505.3" textLength="18" lengthAdjust="spacingAndGlyphs">Q.A. DEPT</text>
<text class="c" x="313" y="512.7" textLength="47" lengthAdjust="spacingAndGlyphs">OTHERS (&#160;&#160;&#160;&#160;&#160;&#160;&#160;&#160;&#160;&#160;&#160;&#160;&#160;&#160;&#160;&#160;&#160;&#160;&#160;&#160;&#160;)</text>

<!-- client -->
<text class="c" x="421" y="455" textLength="15" lengthAdjust="spacingAndGlyphs">CLIENT:</text>
<rect x="422" y="472" width="28" height="16" fill="#fff"/>
<ellipse cx="436" cy="480" rx="12.5" ry="6" fill="#1a5c9c"/>
<text x="429" y="480" fill="#fff" style="font-size:7px" textLength="14" lengthAdjust="spacingAndGlyphs">CSSC</text>
<text class="c" x="453.3" y="474.7" textLength="51" lengthAdjust="spacingAndGlyphs">CSSC HUANGPU WENCHONG</text>
<text class="w" x="453.3" y="478.7" textLength="51" lengthAdjust="spacingAndGlyphs">SHIPBUILDING CO., LTD</text>
<text class="w" x="453.3" y="484" style="font-size:6.5px" textLength="66" lengthAdjust="spacingAndGlyphs">SHIPYARD DESIGN INSTITUTE</text>
<rect x="511" y="475" width="23" height="8.5" fill="#8a8a8a"/>
<text class="w" x="514" y="479" textLength="16" lengthAdjust="spacingAndGlyphs">W- . :</text>
<text class="w" x="535" y="478.3" textLength="21.7" lengthAdjust="spacingAndGlyphs">Dibharc</text>
<text class="c" x="563.3" y="476" textLength="12.4" lengthAdjust="spacingAndGlyphs">DETAIL</text>
<text class="c" x="563.3" y="483.3" textLength="12.4" lengthAdjust="spacingAndGlyphs">DESIGN</text>
<text class="w" x="420.7" y="490.8" textLength="157.5" lengthAdjust="spacingAndGlyphs">THIS DRAWING IS THE PROPERTY OF CSSC HUANGPU WENCHONG SHIPBUILDING COMPANY LIMITED AND MUST NOT BE COPIED</text>
<text class="w" x="420.7" y="494.8" textLength="157.5" lengthAdjust="spacingAndGlyphs">OR REPRODUCED IN ANY WAY OR USED IN ANY MANNER WITHOUT WRITTEN CONSENT OF THE COMPANY THIS INFORMATION IS</text>
<text class="w" x="420.7" y="498.8" textLength="157.5" lengthAdjust="spacingAndGlyphs">CONFIDENTIAL AND SHALL BE RETURNED TO THE COMPANY UPON REQUEST FOR ANY FURTHER INQUIRY PLEASE CONTACT US</text>
<text class="w" x="420.7" y="504.5" textLength="36" lengthAdjust="spacingAndGlyphs">FORM 01-2015 REV 3 COPY</text>
<text class="c" x="427.7" y="511.7" textLength="30.6" lengthAdjust="spacingAndGlyphs">APPROVED BY</text>
<text class="c" x="516.7" y="510" textLength="15" lengthAdjust="spacingAndGlyphs">DATE :</text>
<text class="c" x="427.7" y="519.3" textLength="14" lengthAdjust="spacingAndGlyphs">CHIEF</text>
<text class="c" x="427.7" y="526.7" textLength="14" lengthAdjust="spacingAndGlyphs">CLASS</text>
<text class="c" x="449.3" y="525.5" textLength="35.7" lengthAdjust="spacingAndGlyphs">ABS&#160;&#160;[1H46003]</text>
<path d="M493.3 522L490 527.5H496.5Z" fill="none" stroke="#0ff"/>
<text class="c" x="526.7" y="525.5" textLength="31.6" lengthAdjust="spacingAndGlyphs">25-DEC-2015</text>

<!-- yard -->
<text class="c" x="584.7" y="455.7" textLength="10.5" lengthAdjust="spacingAndGlyphs">YARD:</text>
<text class="c big" x="646" y="460" textLength="94" style="stroke-width:.1">SE-300L8 LIFTBOAT</text>
<text class="c" x="585.7" y="475.7" textLength="35" lengthAdjust="spacingAndGlyphs">HULL/JOB NO :</text>
<text class="c" x="630" y="475.7" textLength="14" lengthAdjust="spacingAndGlyphs">H6805</text>
<text class="c" x="585.7" y="484" textLength="17.6" lengthAdjust="spacingAndGlyphs">SCALE :</text>
<text class="c" x="630" y="484" textLength="10.7" lengthAdjust="spacingAndGlyphs">N.T.S</text>
<text class="c" x="585.7" y="493.3" textLength="9.3" lengthAdjust="spacingAndGlyphs">DRAWN</text>
<text class="c" x="596" y="499.3" textLength="8" lengthAdjust="spacingAndGlyphs">S30</text>
<text class="c" x="626.7" y="493.3" textLength="10" lengthAdjust="spacingAndGlyphs">DATE</text>
<text class="c" x="631.7" y="499.3" textLength="27.3" lengthAdjust="spacingAndGlyphs">15/08/2015</text>
<text class="c" x="585.7" y="507.7" textLength="23.3" lengthAdjust="spacingAndGlyphs">CHECKED :</text>
<text class="c" x="598.7" y="514" textLength="6.3" lengthAdjust="spacingAndGlyphs">LA</text>
<text class="c" x="626.7" y="507.7" textLength="12" lengthAdjust="spacingAndGlyphs">DATE.</text>
<text class="c" x="631.7" y="514" textLength="27.3" lengthAdjust="spacingAndGlyphs">30/08/2015</text>
<text class="c" x="585.7" y="522" textLength="26" lengthAdjust="spacingAndGlyphs">APPROVED :</text>
<text class="c" x="598.7" y="528.7" textLength="5" lengthAdjust="spacingAndGlyphs">WF</text>
<text class="c" x="626.7" y="522" textLength="10" lengthAdjust="spacingAndGlyphs">DATE</text>
<text class="c" x="631.7" y="528.7" textLength="27.3" lengthAdjust="spacingAndGlyphs">02/09/2015</text>
<text class="c" x="666.7" y="478" textLength="15.3" lengthAdjust="spacingAndGlyphs">TITLE :</text>
<text class="m mid" x="706" y="481.7" textLength="51.3" lengthAdjust="spacingAndGlyphs">PIPING DIAGRAM</text>
<text class="m mid" x="672.7" y="491" textLength="106.6" lengthAdjust="spacingAndGlyphs">HYDRAULIC SYSTEM FOR CLUTCH</text>
<text class="w" x="713" y="498.3" textLength="45" lengthAdjust="spacingAndGlyphs">■ ■ ■ ■ ■ ■ ■ ■</text>
<text class="c" x="685.3" y="509.7" textLength="13.4" lengthAdjust="spacingAndGlyphs">SHEET</text>
<text class="c" x="706" y="509" textLength="3" lengthAdjust="spacingAndGlyphs">4</text>
<text class="c" x="718" y="509.7" textLength="5" lengthAdjust="spacingAndGlyphs">OF</text>
<text class="c" x="733" y="509" textLength="3" lengthAdjust="spacingAndGlyphs">4</text>
<text class="c" x="746" y="509.7" textLength="15.7" lengthAdjust="spacingAndGlyphs">SHEETS</text>
<path class="ln C" d="M703.5 512.5H711M730.5 512.5H738"/>
<text class="c" x="667.3" y="522.7" textLength="41" lengthAdjust="spacingAndGlyphs">BASIC DWG NO. :</text>
<text class="r" x="713.3" y="522.7" textLength="50.7" lengthAdjust="spacingAndGlyphs">08-MEB15-BR6-P179</text>
<text class="c" x="667.3" y="530.7" textLength="45.4" lengthAdjust="spacingAndGlyphs">SHIPYARD DWG NO. :</text>
<text class="r" x="714" y="530.7" textLength="27" lengthAdjust="spacingAndGlyphs">SA2010817</text>
<text class="c" x="772.3" y="522.3" textLength="9" lengthAdjust="spacingAndGlyphs">REV:</text>
<path d="M787.3 523.5L782.5 532H792Z" fill="none" stroke="#0ff"/>
<text class="c" x="786" y="529" style="font-size:4px">A</text>
<text class="c" x="746" y="538.3" textLength="49.7" lengthAdjust="spacingAndGlyphs">AS: Bulldog n Stamp</text>
</svg>
</body></html>
